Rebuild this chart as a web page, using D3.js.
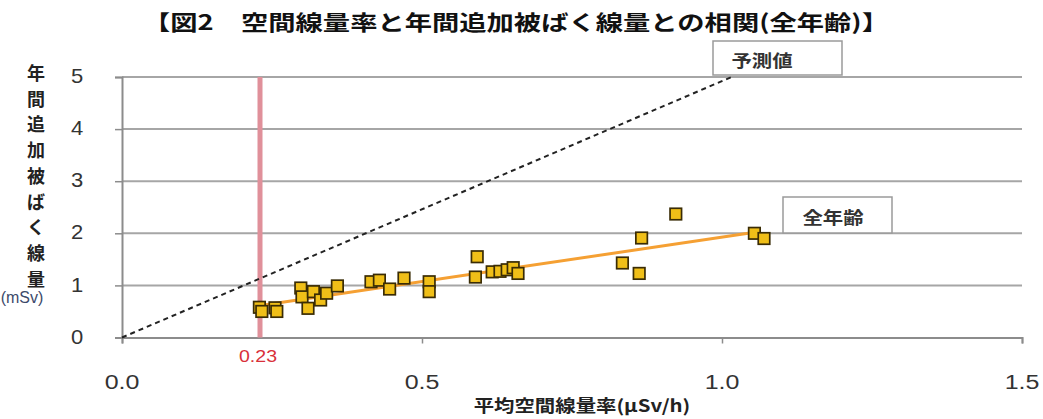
<!DOCTYPE html>
<html><head><meta charset="utf-8">
<script src="https://cdn.jsdelivr.net/npm/d3@7/dist/d3.min.js"></script>
<style>
body{margin:0;background:#fff;}
svg{display:block;}
</style></head>
<body>
<svg id="c" width="1043" height="419"></svg>
<script>
const titleText = "【図2\u3000空間線量率と年間追加被ばく線量との相関(全年齢)】";
const yLabelChars = ["年","間","追","加","被","ば","く","線","量"];
const yUnit = "(mSv)";
const xTitle = "平均空間線量率(μSv/h)";
const xTicks = [0, 0.5, 1.0, 1.5];
const xTickLabels = ["0.0","0.5","1.0","1.5"];
const yTicks = [0,1,2,3,4,5];
const refX = 0.23;
const refLabel = "0.23";
const doseRate = [0.229,0.233,0.255,0.258,0.298,0.300,0.310,0.319,0.331,0.341,0.359,0.415,0.429,0.446,0.470,0.512,0.512,0.592,0.589,0.617,0.630,0.642,0.652,0.660,0.834,0.862,0.866,0.923,1.054,1.070];
const annualDose = [0.58,0.50,0.57,0.50,0.95,0.78,0.56,0.88,0.72,0.85,0.99,1.07,1.10,0.93,1.14,1.07,0.88,1.55,1.16,1.26,1.27,1.30,1.34,1.23,1.43,1.23,1.91,2.37,2.00,1.90];
const trendX = [0.228, 1.055];
const trendY = [0.61, 2.02];
const predX = [0, 1.016];
const predY = [0, 5.0];
const legendPred = "予測値";
const legendAll = "全年齢";

const svg = d3.select("#c");
const SX = 1.3;
const jp = "'Noto Sans CJK JP', sans-serif";
const num = "'Liberation Sans', Arial, sans-serif";

const x = d3.scaleLinear().domain([0,1.5]).range([122,1022]);
const y = d3.scaleLinear().domain([0,5]).range([337.5,77]);

function stext(g, str, px, py, opts){
  const t = g.append("text")
    .attr("transform", `translate(${px},${py}) scale(${opts.sx||SX},1)`)
    .attr("text-anchor", opts.anchor||"middle")
    .attr("dominant-baseline","central")
    .style("font-family", opts.font||jp)
    .style("font-size", opts.size+"px")
    .style("font-weight", opts.weight||"normal")
    .attr("fill", opts.fill||"#222")
    .text(str);
  return t;
}

// gridlines
svg.append("g").selectAll("line").data(yTicks.filter(d=>d>0)).join("line")
  .attr("x1", x(0)).attr("x2", x(1.5))
  .attr("y1", d=>y(d)).attr("y2", d=>y(d))
  .attr("stroke","#a6a6a6").attr("stroke-width",2);

// x axis
const xAxis = d3.axisBottom(x).tickValues(xTicks).tickSize(6).tickFormat("");
const gx = svg.append("g").attr("transform",`translate(0,${y(0)})`).call(xAxis);
gx.select(".domain").attr("stroke","#8c8c8c").attr("stroke-width",2);
gx.selectAll(".tick line").attr("stroke","#8c8c8c").attr("stroke-width",1.5);
xTicks.forEach((v,i)=>stext(svg, xTickLabels[i], x(v), 382, {size:20, font:num, fill:"#333", sx:1.25}));

// y axis
const yAxis = d3.axisLeft(y).tickValues(yTicks).tickSize(7).tickFormat("");
const gy = svg.append("g").attr("transform",`translate(${x(0)},0)`).call(yAxis);
gy.select(".domain").attr("stroke","#8c8c8c").attr("stroke-width",2);
gy.selectAll(".tick line").attr("stroke","#8c8c8c").attr("stroke-width",1.5);
yTicks.forEach(v=>stext(svg, String(v), 77, y(v)-1, {size:20, font:num, fill:"#333", sx:1.1}));

// reference vertical line
svg.append("line").attr("x1",x(refX)).attr("x2",x(refX)).attr("y1",y(5)).attr("y2",y(0))
  .attr("stroke","#e0909a").attr("stroke-width",5);
stext(svg, refLabel, x(refX)-2, 356, {size:17, font:num, fill:"#d9303a", sx:1.15});

// predicted dashed line
const line = d3.line().x(d=>x(d[0])).y(d=>y(d[1]));
svg.append("path").attr("d", line(predX.map((v,i)=>[v,predY[i]])))
  .attr("fill","none").attr("stroke","#222").attr("stroke-width",2).attr("stroke-dasharray","5,4");

// trend line
svg.append("path").attr("d", line(trendX.map((v,i)=>[v,trendY[i]])))
  .attr("fill","none").attr("stroke","#f5a033").attr("stroke-width",3);

// points
const pts = doseRate.map((v,i)=>[v, annualDose[i]]);
const S = 11.5;
svg.append("g").selectAll("rect").data(pts).join("rect")
  .attr("x", d=>x(d[0])-S/2).attr("y", d=>y(d[1])-S/2)
  .attr("width",S).attr("height",S)
  .attr("fill","#f0bf18").attr("stroke","#3a2c05").attr("stroke-width",1.7);

// legend boxes
function box(x0,y0,w,h,label,tx){
  svg.append("rect").attr("x",x0).attr("y",y0).attr("width",w).attr("height",h)
    .attr("fill","#fff").attr("stroke","#9a9a9a").attr("stroke-width",1.5);
  stext(svg, label, tx, y0+h/2+1, {size:17, weight:"bold", fill:"#333", sx:1.2});
}
box(713,41,129,34,legendPred,762);
box(783,197,109,36,legendAll,833);

// title
stext(svg, titleText, 516, 21, {size:21, weight:"bold", fill:"#111", sx:1.3});

// y label
yLabelChars.forEach((c,i)=>stext(svg, c, 36, 72 + i*25.7, {size:18, weight:"bold", fill:"#222", sx:1.0}));
stext(svg, yUnit, 22, 297, {size:16, font:num, fill:"#3c4a6a", sx:1.0});

// x title
stext(svg, xTitle, 582, 404, {size:17, weight:"bold", fill:"#222", sx:1.2});
</script>
</body></html>
